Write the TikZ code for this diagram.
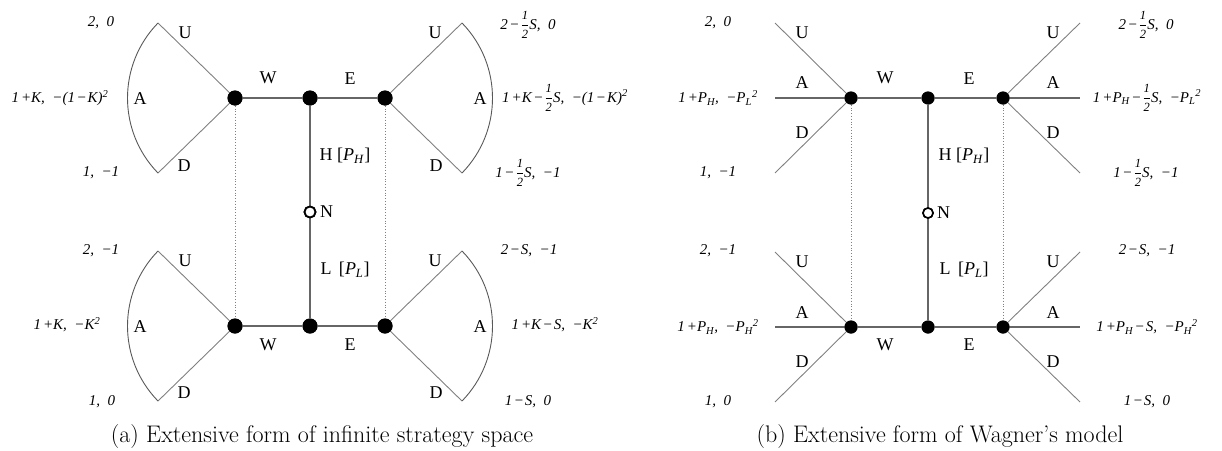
\documentclass[tikz,border=0pt]{standalone}
\usepackage{amsmath}
\usepackage{fontspec}
\newfontfamily\tms{Liberation Serif}
\newcommand\fdig[1]{\text{\fontsize{12.5}{12.5}\selectfont\itshape #1}}
\newcommand\hlf{\ensuremath{\genfrac{}{}{0.5pt}{0}{\fdig{1}}{\fdig{2}}}}
\newcommand\mi{\kern1.5pt−\kern1pt}
\newcommand\pl{\kern2pt+}
\begin{document}
\begin{tikzpicture}[x=1pt,y=-1pt,
  dotn/.style={circle,fill=black,inner sep=0pt,minimum size=15pt},
  dotb/.style={circle,fill=black,inner sep=0pt,minimum size=13pt},
  chance/.style={circle,draw=black,line width=1.8pt,fill=white,inner sep=0pt,minimum size=11pt},
  chanceb/.style={circle,draw=black,line width=1.6pt,fill=white,inner sep=0pt,minimum size=10pt},
  tree/.style={draw=black!60,line width=1.1pt},
  fan/.style={draw=black!50,line width=0.9pt},
  arcl/.style={draw=black!65,line width=0.9pt},
  info/.style={draw=black!50,dotted,line width=0.8pt},
  lab/.style={font=\tms\fontsize{18}{20}\selectfont,inner sep=0pt},
  pay/.style={font=\tms\itshape\fontsize{15}{17}\selectfont,inner sep=0pt},
  capt/.style={font=\fontsize{24}{28}\selectfont,inner sep=0pt}]
\useasboundingbox (0,0) rectangle (1222,450);

% ================= Panel (a) =================
\node[dotn] (a1) at (235,98) {};
\node[dotn] (a2) at (310,98) {};
\node[dotn] (a3) at (385,98) {};
\node[chance] (aN) at (310,212) {};
\node[dotn] (a4) at (235,326) {};
\node[dotn] (a5) at (310,326) {};
\node[dotn] (a6) at (385,326) {};
\coordinate (aTLU) at (158,23);
\coordinate (aTLD) at (158,173);
\coordinate (aTRU) at (462,23);
\coordinate (aTRD) at (462,173);
\coordinate (aBLU) at (158,251);
\coordinate (aBLD) at (158,401);
\coordinate (aBRU) at (462,251);
\coordinate (aBRD) at (462,401);

\draw[info] (a1) -- (a4);
\draw[info] (a3) -- (a6);
\draw[tree] (a1) -- (a2) -- (a3);
\draw[tree] (a4) -- (a5) -- (a6);
\draw[tree] (a2) -- (aN) -- (a5);
\draw[fan] (a1.center) -- (aTLU);
\draw[fan] (a1.center) -- (aTLD);
\draw[fan] (a3.center) -- (aTRU);
\draw[fan] (a3.center) -- (aTRD);
\draw[fan] (a4.center) -- (aBLU);
\draw[fan] (a4.center) -- (aBLD);
\draw[fan] (a6.center) -- (aBRU);
\draw[fan] (a6.center) -- (aBRD);
\draw[arcl] (aTLU) arc[start angle=135.75,end angle=224.25,radius=107.5pt];
\draw[arcl] (aTRU) arc[start angle=44.25,end angle=-44.25,radius=107.5pt];
\draw[arcl] (aBLU) arc[start angle=135.75,end angle=224.25,radius=107.5pt];
\draw[arcl] (aBRU) arc[start angle=44.25,end angle=-44.25,radius=107.5pt];
\foreach \n in {a1,a2,a3,a4,a5,a6} \node[dotn] at (\n) {};
\node[chance] at (aN) {};

\node[lab] (laU1) at (185,33) {U};
\node[lab] (laA1) at (140,99) {A};
\node[lab] (laD1) at (184,166) {D};
\node[lab] (laW1) at (268,78) {W};
\node[lab] (laE1) at (350,79) {E};
\node[lab] (laU2) at (435,33) {U};
\node[lab] (laA2) at (480,99) {A};
\node[lab] (laD2) at (436,166) {D};
\node[lab] (laH) at (345,156) {H [\textit{P}\textsubscript{\textit{H}}]};
\node[lab,anchor=west] (laN) at (320,212) {N};
\node[lab] (laL) at (345,270) {L\, [\textit{P}\textsubscript{\textit{L}}]};
\node[lab] (laU3) at (185,261) {U};
\node[lab] (laA3) at (140,327) {A};
\node[lab] (laD3) at (184,393) {D};
\node[lab] (laW2) at (268,345) {W};
\node[lab] (laE2) at (350,345) {E};
\node[lab] (laU4) at (435,261) {U};
\node[lab] (laA4) at (480,327) {A};
\node[lab] (laD4) at (436,393) {D};

\node[pay] (pa1) at (101,23) {2,\ \ 0};
\node[pay] (pa2) at (60,98) {1\pl K,\ \ −(1\mi K)\textsuperscript{2}};
\node[pay] (pa3) at (101,173) {1,\ \ −1};
\node[pay] (pa4) at (528,25) {2\mi\hlf S,\ \ 0};
\node[pay,anchor=west] (pa5) at (502,98) {1\pl K\mi\hlf S,\ \ −(1\mi K)\textsuperscript{2}};
\node[pay] (pa6) at (528,173) {1\mi\hlf S,\ \ −1};
\node[pay] (pa7) at (101,251) {2,\ \ −1};
\node[pay] (pa8) at (67,325) {1\pl K,\ \ −K\textsuperscript{2}};
\node[pay] (pa9) at (102,402) {1,\ \ 0};
\node[pay] (pa10) at (529,251) {2\mi S,\ \ −1};
\node[pay] (pa11) at (555,325) {1\pl K\mi S,\ \ −K\textsuperscript{2}};
\node[pay] (pa12) at (528,402) {1\mi S,\ \ 0};

\node[capt] (capa) at (322,437) {(a) Extensive form of infinite strategy space};

% ================= Panel (b) =================
\node[dotb] (b1) at (851,98) {};
\node[dotb] (b2) at (928,98) {};
\node[dotb] (b3) at (1003,98) {};
\node[chanceb] (bN) at (928,213) {};
\node[dotb] (b4) at (851,327) {};
\node[dotb] (b5) at (928,327) {};
\node[dotb] (b6) at (1003,327) {};
\coordinate (bTLU) at (775,23);
\coordinate (bTLA) at (775,98);
\coordinate (bTLD) at (775,173);
\coordinate (bTRU) at (1080,23);
\coordinate (bTRA) at (1080,98);
\coordinate (bTRD) at (1080,173);
\coordinate (bBLU) at (775,252);
\coordinate (bBLA) at (775,327);
\coordinate (bBLD) at (775,402);
\coordinate (bBRU) at (1080,252);
\coordinate (bBRA) at (1080,327);
\coordinate (bBRD) at (1080,402);

\draw[info] (b1) -- (b4);
\draw[info] (b3) -- (b6);
\draw[tree] (b1) -- (b2) -- (b3);
\draw[tree] (b4) -- (b5) -- (b6);
\draw[tree] (b2) -- (bN) -- (b5);
\foreach \s in {U,D} {
  \draw[fan] (b1.center) -- (bTL\s);
  \draw[fan] (b3.center) -- (bTR\s);
  \draw[fan] (b4.center) -- (bBL\s);
  \draw[fan] (b6.center) -- (bBR\s);
}
\draw[tree] (b1.center) -- (bTLA);
\draw[tree] (b3.center) -- (bTRA);
\draw[tree] (b4.center) -- (bBLA);
\draw[tree] (b6.center) -- (bBRA);
\foreach \n in {b1,b2,b3,b4,b5,b6} \node[dotb] at (\n) {};
\node[chanceb] at (bN) {};

\node[lab] (lbU1) at (802,33) {U};
\node[lab] (lbA1) at (802,83) {A};
\node[lab] (lbD1) at (802,133) {D};
\node[lab] (lbW1) at (885,78) {W};
\node[lab] (lbE1) at (969,79) {E};
\node[lab] (lbU2) at (1053,33) {U};
\node[lab] (lbA2) at (1053,83) {A};
\node[lab] (lbD2) at (1053,133) {D};
\node[lab] (lbH) at (964,156) {H [\textit{P}\textsubscript{\textit{H}}]};
\node[lab,anchor=west] (lbN) at (937,213) {N};
\node[lab] (lbL) at (964,270) {L\, [\textit{P}\textsubscript{\textit{L}}]};
\node[lab] (lbU3) at (802,262) {U};
\node[lab] (lbA3) at (802,313) {A};
\node[lab] (lbD3) at (802,362) {D};
\node[lab] (lbW2) at (885,345) {W};
\node[lab] (lbE2) at (969,345) {E};
\node[lab] (lbU4) at (1053,262) {U};
\node[lab] (lbA4) at (1053,313) {A};
\node[lab] (lbD4) at (1053,362) {D};

\node[pay] (pb1) at (718,23) {2,\ \ 0};
\node[pay] (pb2) at (718,98) {1\pl P\textsubscript{\textit{H}},\ \ −P\textsubscript{\textit{L}}\textsuperscript{2}};
\node[pay] (pb3) at (718,173) {1,\ \ −1};
\node[pay] (pb4) at (1146,25) {2\mi\hlf S,\ \ 0};
\node[pay] (pb5) at (1147,98) {1\pl P\textsubscript{\textit{H}}\mi\hlf S,\ \ −P\textsubscript{\textit{L}}\textsuperscript{2}};
\node[pay] (pb6) at (1146,173) {1\mi\hlf S,\ \ −1};
\node[pay] (pb7) at (718,251) {2,\ \ −1};
\node[pay] (pb8) at (718,327) {1\pl P\textsubscript{\textit{H}},\ \ −P\textsubscript{\textit{H}}\textsuperscript{2}};
\node[pay] (pb9) at (718,402) {1,\ \ 0};
\node[pay] (pb10) at (1147,251) {2\mi S,\ \ −1};
\node[pay] (pb11) at (1147,327) {1\pl P\textsubscript{\textit{H}}\mi S,\ \ −P\textsubscript{\textit{H}}\textsuperscript{2}};
\node[pay] (pb12) at (1147,402) {1\mi S,\ \ 0};

\node[capt] (capb) at (940,437) {(b) Extensive form of Wagner's model};
\end{tikzpicture}
\end{document}
